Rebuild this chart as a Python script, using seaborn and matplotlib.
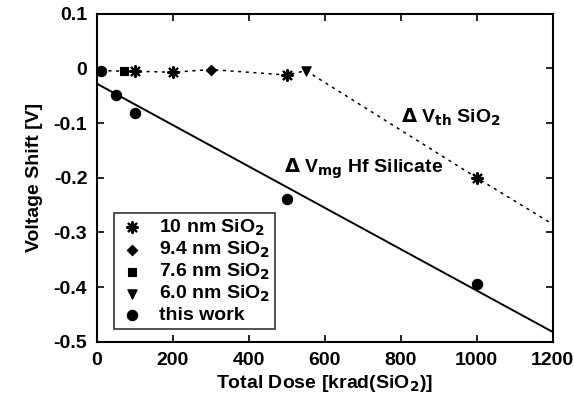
import seaborn as sns
import matplotlib.pyplot as plt

# data
dose_10nm = [100, 200, 500, 1000]
shift_10nm = [-0.005, -0.007, -0.012, -0.200]
dose_94nm = [300]
shift_94nm = [-0.002]
dose_76nm = [70]
shift_76nm = [-0.005]
dose_60nm = [550]
shift_60nm = [-0.004]
dose_this = [10, 50, 100, 500, 1000]
shift_this = [-0.004, -0.049, -0.082, -0.239, -0.394]

# dotted guide through the SiO2 points, solid fit through this work
sio2_dose = [10, 70, 100, 200, 300, 500, 550, 1000, 1200]
sio2_shift = [-0.004, -0.005, -0.005, -0.007, -0.002, -0.012, -0.004, -0.200, -0.285]
fit_dose = [0, 1200]
fit_shift = [-0.028, -0.482]

sns.set_style("ticks")
plt.rcParams["font.family"] = ["Liberation Sans", "DejaVu Sans"]
plt.rcParams["font.weight"] = "bold"
plt.rcParams["mathtext.default"] = "bf"
for key in ["text.color", "axes.labelcolor", "xtick.color", "ytick.color",
            "axes.edgecolor"]:
    plt.rcParams[key] = "black"

fig = plt.figure(figsize=(5.74, 4.05), dpi=100)
ax = fig.add_axes([0.169, 0.156, 0.794, 0.81])

sns.lineplot(x=sio2_dose, y=sio2_shift, ax=ax, color="black", linestyle=(0, (2, 3)),
             linewidth=1.1, sort=False)
sns.lineplot(x=fit_dose, y=fit_shift, ax=ax, color="black", linewidth=1.4)

kw = dict(ax=ax, color="black", edgecolor="black", zorder=5)
sns.scatterplot(x=dose_10nm, y=shift_10nm, marker=(8, 2, 0), s=60, linewidth=1.6,
                label="10 nm SiO$_2$", **kw)
sns.scatterplot(x=dose_94nm, y=shift_94nm, marker="D", s=28, linewidth=0.8,
                label="9.4 nm SiO$_2$", **kw)
sns.scatterplot(x=dose_76nm, y=shift_76nm, marker="s", s=38, linewidth=0.8,
                label="7.6 nm SiO$_2$", **kw)
sns.scatterplot(x=dose_60nm, y=shift_60nm, marker="v", s=45, linewidth=0.8,
                label="6.0 nm SiO$_2$", **kw)
sns.scatterplot(x=dose_this, y=shift_this, marker="o", s=55, linewidth=0.8,
                label="this work", **kw)

ax.text(492, -0.19, r"$\Delta$ V$_{\rm mg}$ Hf Silicate", fontsize=14,
        fontweight="bold")
ax.text(800, -0.10, r"$\Delta$ V$_{\rm th}$ SiO$_2$", fontsize=14,
        fontweight="bold")

ax.set_xlim(0, 1200)
ax.set_ylim(-0.5, 0.1)
ax.set_xticks(range(0, 1201, 200))
ax.set_yticks([0.1, 0, -0.1, -0.2, -0.3, -0.4, -0.5])
ax.set_yticklabels(["0.1", "0", "-0.1", "-0.2", "-0.3", "-0.4", "-0.5"])
ax.tick_params(direction="in", length=5, width=1.2, top=True, right=True,
               labelsize=14, pad=7, colors="black")
for s in ax.spines.values():
    s.set_linewidth(1.5)
    s.set_visible(True)
    s.set_color("black")
for lab in ax.get_xticklabels() + ax.get_yticklabels():
    lab.set_fontweight("bold")

ax.set_xlabel("Total Dose [krad(SiO$_2$)]", fontsize=14, fontweight="bold",
              labelpad=3)
ax.set_ylabel("Voltage Shift [V]", fontsize=14, fontweight="bold", labelpad=8)

leg = ax.legend(loc="lower left", bbox_to_anchor=(0.015, 0.01), fontsize=14,
                frameon=True, fancybox=False, edgecolor="black",
                handletextpad=0.7, labelspacing=0.1, borderpad=0.25,
                handlelength=1.4)
leg.get_frame().set_linewidth(1.2)
for t in leg.get_texts():
    t.set_fontweight("bold")

fig.savefig("out.png", dpi=100)
